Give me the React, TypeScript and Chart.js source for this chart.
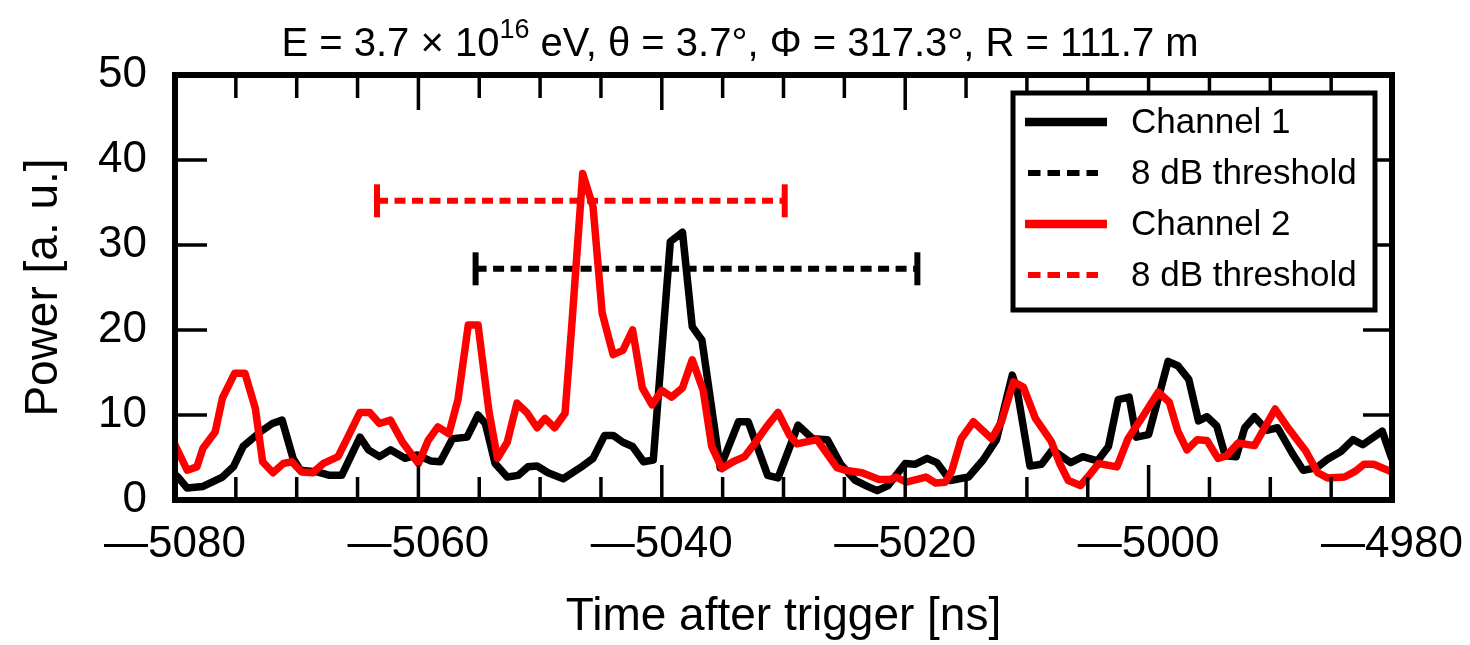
import React, { useEffect, useRef } from "react";
import { Chart, registerables } from "chart.js";

Chart.register(...registerables);

const FONT = "'Liberation Sans', Arial, Helvetica, sans-serif";

// Channel 1 (black) trace: time [ns] and power [a.u.]
const ch1Time = [
  -5080.0, -5079.75, -5079.0, -5077.7, -5076.1, -5075.2, -5074.4, -5073.0, -5072.0, -5071.2,
  -5070.3, -5069.7, -5068.3, -5067.3, -5066.3, -5064.8, -5064.1, -5063.2, -5062.3, -5061.1,
  -5060.1, -5059.0, -5058.2, -5057.2, -5056.0, -5055.1, -5054.5, -5053.7, -5052.7, -5051.8,
  -5051.0, -5050.25, -5049.35, -5048.1, -5046.7, -5045.65, -5044.7, -5044.0, -5043.2, -5042.4,
  -5041.5, -5040.7, -5039.3, -5038.3, -5037.5, -5036.7, -5035.2, -5033.7, -5032.9, -5031.3,
  -5030.45, -5028.8, -5027.6, -5026.4, -5025.3, -5024.1, -5023.1, -5022.3, -5021.4, -5020.0,
  -5019.2, -5018.2, -5017.4, -5016.3, -5014.8, -5013.6, -5012.5, -5011.2, -5010.8, -5009.75,
  -5008.8, -5007.9, -5006.4, -5005.4, -5004.2, -5003.3, -5002.5, -5001.6, -5001.0, -5000.0,
  -4998.4, -4997.6, -4996.7, -4995.9, -4995.2, -4994.4, -4993.7, -4992.8, -4992.1, -4991.3,
  -4990.3, -4989.4, -4988.2, -4987.3, -4986.2, -4985.3, -4984.2, -4983.2, -4982.4, -4980.8, -4980.0,
];
const ch1Power = [
  3.0, 2.7, 1.4, 1.6, 2.7, 3.9, 6.3, 8.0, 9.0, 9.4,
  4.9, 3.5, 3.3, 2.9, 2.9, 7.4, 5.9, 5.1, 5.9, 4.9,
  5.3, 4.6, 4.5, 7.2, 7.4, 10.0, 9.0, 4.3, 2.7, 2.9,
  3.9, 4.0, 3.2, 2.5, 3.8, 4.9, 7.6, 7.6, 6.8, 6.3,
  4.5, 4.7, 30.4, 31.5, 20.4, 18.8, 3.8, 9.2, 9.2, 2.9,
  2.6, 8.8, 7.2, 7.1, 4.2, 2.3, 1.6, 1.1, 1.7, 4.3,
  4.2, 4.9, 4.4, 2.3, 2.7, 4.7, 7.1, 14.7, 12.9, 4.0,
  4.2, 5.9, 4.4, 5.1, 4.6, 6.3, 11.8, 12.1, 7.4, 7.7,
  16.3, 15.8, 14.2, 9.3, 9.8, 8.7, 5.2, 5.1, 8.5, 9.8,
  8.2, 8.5, 5.5, 3.5, 3.8, 4.8, 5.7, 7.1, 6.5, 8.1, 4.8,
];

// Channel 2 (red) trace
const ch2Time = [
  -5080.0, -5079.0, -5078.2, -5077.7, -5076.7, -5076.1, -5075.1, -5074.25, -5073.4, -5072.8,
  -5071.95, -5071.1, -5070.4, -5069.6, -5068.7, -5067.8, -5066.6, -5065.8, -5064.8, -5064.0,
  -5063.2, -5062.3, -5061.3, -5060.0, -5059.2, -5058.4, -5057.5, -5056.75, -5055.9, -5055.1,
  -5054.2, -5053.5, -5052.7, -5051.9, -5051.1, -5050.25, -5049.6, -5048.8, -5047.95, -5047.4,
  -5046.5, -5045.65, -5044.9, -5044.0, -5043.2, -5042.4, -5041.6, -5040.8, -5040.0, -5039.2,
  -5038.3, -5037.5, -5036.6, -5035.9, -5035.05, -5034.15, -5033.2, -5032.3, -5031.4, -5030.45,
  -5029.5, -5028.9, -5027.25, -5025.6, -5024.95, -5023.55, -5022.15, -5021.25, -5020.75, -5019.9,
  -5018.3, -5017.5, -5016.7, -5016.2, -5015.4, -5014.4, -5012.9, -5012.1, -5011.1, -5010.3,
  -5009.3, -5008.0, -5007.3, -5006.6, -5005.6, -5005.0, -5004.1, -5002.6, -5001.7, -5000.4,
  -4999.2, -4998.3, -4997.6, -4996.85, -4996.0, -4995.2, -4994.3, -4993.6, -4992.65, -4991.3,
  -4989.6, -4988.5, -4987.1, -4986.1, -4985.3, -4983.9, -4983.0, -4982.3, -4981.5, -4980.0,
];
const ch2Power = [
  6.5, 3.5, 3.9, 6.1, 8.0, 12.0, 14.9, 14.9, 10.8, 4.5,
  3.2, 4.3, 4.5, 3.3, 3.2, 4.3, 5.1, 7.4, 10.3, 10.3,
  9.0, 9.4, 6.8, 4.3, 7.0, 8.6, 7.8, 11.8, 20.6, 20.6,
  10.4, 4.9, 6.8, 11.4, 10.3, 8.5, 9.6, 8.5, 10.2, 20.5,
  38.4, 34.5, 22.0, 17.1, 17.6, 20.0, 13.2, 11.2, 12.9, 12.1,
  13.2, 16.5, 12.9, 6.3, 3.7, 4.5, 5.1, 6.8, 8.6, 10.3,
  7.6, 6.6, 7.1, 3.8, 3.5, 3.2, 2.4, 2.4, 2.7, 2.1,
  2.7, 2.0, 2.1, 3.3, 7.2, 9.2, 7.2, 9.2, 13.9, 13.3,
  9.6, 6.9, 4.3, 2.3, 1.7, 2.7, 4.3, 3.9, 7.2, 10.0,
  12.7, 11.5, 8.1, 5.9, 7.1, 7.0, 4.9, 5.2, 6.7, 6.4,
  10.7, 8.4, 5.8, 3.2, 2.6, 2.7, 3.4, 4.2, 4.2, 3.3,
];

// 8 dB threshold windows (start/end time) and their plotting level
const thr1Time = [-5055.3, -5019.0];
const thr1Level = [27.2, 27.2];
const thr2Time = [-5063.4, -5029.9];
const thr2Level = [35.2, 35.2];

const seriesLabels = ["Channel 1", "8 dB threshold", "Channel 2", "8 dB threshold"];
const xTickValues = [-5080, -5060, -5040, -5020, -5000, -4980];
const yTickValues = [0, 10, 20, 30, 40, 50];
const xMinorStep = 5;
const xAxisTitle = "Time after trigger [ns]";
const yAxisTitle = "Power [a. u.]";
const titleParts = [
  { text: "E = 3.7 \u00d7 10", sup: false },
  { text: "16", sup: true },
  { text: " eV, \u03b8 = 3.7\u00b0, \u03a6 = 317.3\u00b0, R = 111.7 m", sup: false },
];

const zip = (xs: number[], ys: number[]) => xs.map((x, i) => ({ x, y: ys[i] }));

export default function App() {
  const ref = useRef<HTMLCanvasElement>(null);

  useEffect(() => {
    const canvas = ref.current;
    if (!canvas) return;

    const xMin = xTickValues[0];
    const xMax = xTickValues[xTickValues.length - 1];
    const yMin = yTickValues[0];
    const yMax = yTickValues[yTickValues.length - 1];

    const framePlugin = {
      id: "frameTicks",
      afterDatasetsDraw(chart: any) {
        const { ctx, chartArea: a, scales } = chart;
        const xs = scales.x;
        const ys = scales.y;
        ctx.save();
        ctx.strokeStyle = "#000";
        ctx.lineCap = "butt";
        ctx.lineWidth = 3.5;
        const seg = (x1: number, y1: number, x2: number, y2: number) => {
          ctx.beginPath();
          ctx.moveTo(x1, y1);
          ctx.lineTo(x2, y2);
          ctx.stroke();
        };
        for (let v = xMin + xMinorStep; v < xMax; v += xMinorStep) {
          const px = xs.getPixelForValue(v);
          const len = xTickValues.includes(v) ? 35 : 23;
          seg(px, a.bottom, px, a.bottom - len);
          seg(px, a.top, px, a.top + len);
        }
        for (const v of yTickValues) {
          if (v === yMin || v === yMax) continue;
          const py = ys.getPixelForValue(v);
          seg(a.left, py, a.left + 32, py);
          seg(a.right, py, a.right - 29, py);
        }
        ctx.lineWidth = 6;
        ctx.strokeRect(a.left, a.top, a.right - a.left, a.bottom - a.top);
        ctx.restore();
      },
    };

    const legendPlugin = {
      id: "insideLegend",
      afterDraw(chart: any) {
        const { ctx, chartArea: a } = chart;
        const w = 362;
        const h = 217;
        const left = a.right - 17 - w;
        const top = a.top + 18;
        ctx.save();
        ctx.fillStyle = "#fff";
        ctx.fillRect(left, top, w, h);
        ctx.lineWidth = 5;
        ctx.strokeStyle = "#000";
        ctx.strokeRect(left, top, w, h);
        chart.data.datasets.forEach((ds: any, i: number) => {
          const y = top + 29 + i * 51;
          ctx.beginPath();
          ctx.strokeStyle = ds.borderColor;
          ctx.lineCap = "butt";
          if (ds.borderDash && ds.borderDash.length) {
            ctx.lineWidth = 6;
            ctx.setLineDash([12.5, 7]);
            ctx.moveTo(left + 15, y);
            ctx.lineTo(left + 85, y);
          } else {
            ctx.lineWidth = 8.5;
            ctx.setLineDash([]);
            ctx.moveTo(left + 12, y);
            ctx.lineTo(left + 94, y);
          }
          ctx.stroke();
          ctx.setLineDash([]);
          ctx.fillStyle = "#000";
          ctx.font = `35px ${FONT}`;
          ctx.textBaseline = "middle";
          ctx.textAlign = "left";
          ctx.fillText(ds.label, left + 118, y + 1);
        });
        ctx.restore();
      },
    };

    const titlePlugin = {
      id: "supTitle",
      afterDraw(chart: any) {
        const { ctx } = chart;
        ctx.save();
        ctx.fillStyle = "#000";
        ctx.textBaseline = "alphabetic";
        ctx.textAlign = "left";
        const mainFont = `40px ${FONT}`;
        const supFont = `27px ${FONT}`;
        let total = 0;
        for (const p of titleParts) {
          ctx.font = p.sup ? supFont : mainFont;
          total += ctx.measureText(p.text).width;
        }
        let x = 740 - total / 2;
        const base = 56;
        for (const p of titleParts) {
          ctx.font = p.sup ? supFont : mainFont;
          ctx.fillText(p.text, x, p.sup ? base - 18 : base);
          x += ctx.measureText(p.text).width;
        }
        ctx.restore();
      },
    };

    const chart = new Chart(canvas, {
      type: "line",
      data: {
        datasets: [
          {
            label: seriesLabels[0],
            data: zip(ch1Time, ch1Power),
            borderColor: "#000000",
            borderWidth: 7.5,
            pointRadius: 0,
            borderJoinStyle: "round",
            tension: 0,
            order: 4,
          },
          {
            label: seriesLabels[1],
            data: zip(thr1Time, thr1Level),
            borderColor: "#000000",
            borderWidth: 6,
            borderDash: [11, 6.5],
            pointStyle: "line",
            pointRotation: 90,
            pointRadius: 16.5,
            pointBorderWidth: 6,
            pointBorderColor: "#000000",
            order: 3,
          },
          {
            label: seriesLabels[2],
            data: zip(ch2Time, ch2Power),
            borderColor: "#ff0000",
            borderWidth: 7.5,
            pointRadius: 0,
            borderJoinStyle: "round",
            tension: 0,
            order: 2,
          },
          {
            label: seriesLabels[3],
            data: zip(thr2Time, thr2Level),
            borderColor: "#ff0000",
            borderWidth: 6,
            borderDash: [11, 6.5],
            pointStyle: "line",
            pointRotation: 90,
            pointRadius: 16.5,
            pointBorderWidth: 6,
            pointBorderColor: "#ff0000",
            order: 1,
          },
        ],
      },
      options: {
        animation: false,
        responsive: true,
        maintainAspectRatio: false,
        devicePixelRatio: 1,
        layout: { padding: { top: 75, right: 78, left: 0, bottom: 0 } },
        plugins: {
          legend: { display: false },
          tooltip: { enabled: false },
          title: { display: false },
        },
        scales: {
          x: {
            type: "linear",
            min: xMin,
            max: xMax,
            grid: { display: false, drawTicks: false },
            border: { display: false },
            afterBuildTicks: (s: any) => {
              s.ticks = xTickValues.map((v) => ({ value: v }));
            },
            ticks: {
              color: "#000",
              font: { family: FONT, size: 44 },
              padding: 18,
              maxRotation: 0,
              autoSkip: false,
              callback: (v: any) => (Number(v) < 0 ? "\u2014" + Math.abs(Number(v)) : String(v)),
            },
            title: {
              display: true,
              text: xAxisTitle,
              color: "#000",
              font: { family: FONT, size: 46 },
              padding: { top: 0, bottom: 0 },
            },
            afterFit: (s: any) => {
              s.height = 145;
              s.paddingLeft = 0;
              s.paddingRight = 0;
            },
          },
          y: {
            type: "linear",
            min: yMin,
            max: yMax,
            grid: { display: false, drawTicks: false },
            border: { display: false },
            afterBuildTicks: (s: any) => {
              s.ticks = yTickValues.map((v) => ({ value: v }));
            },
            ticks: {
              color: "#000",
              font: { family: FONT, size: 44 },
              padding: 28,
            },
            title: {
              display: true,
              text: yAxisTitle,
              color: "#000",
              font: { family: FONT, size: 46 },
              padding: { top: 17, bottom: 0 },
            },
            afterFit: (s: any) => {
              s.width = 175;
              s.paddingTop = 0;
              s.paddingBottom = 0;
            },
          },
        },
      },
      plugins: [framePlugin, legendPlugin, titlePlugin],
    } as any);

    return () => chart.destroy();
  }, []);

  return (
    <div style={{ position: "fixed", left: 0, top: 0, width: 1470, height: 645, background: "#fff" }}>
      <canvas ref={ref} />
    </div>
  );
}
